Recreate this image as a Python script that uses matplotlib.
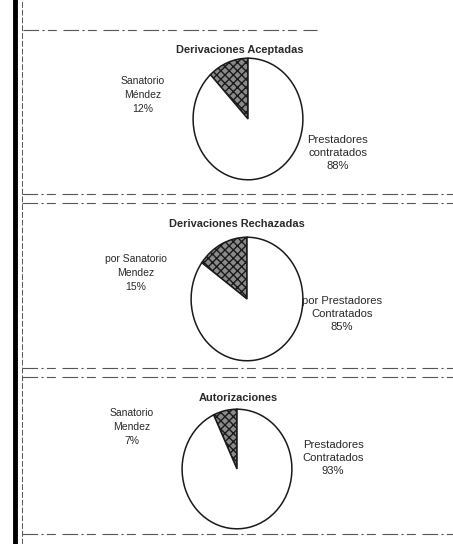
import matplotlib.pyplot as plt
from matplotlib.lines import Line2D

# Data
titles = ["Derivaciones Aceptadas", "Derivaciones Rechazadas", "Autorizaciones"]
small_labels = ["Sanatorio\nMéndez\n12%", "por Sanatorio\nMendez\n15%", "Sanatorio\nMendez\n7%"]
big_labels = ["Prestadores\ncontratados\n88%", "por Prestadores\nContratados\n85%", "Prestadores\nContratados\n93%"]
sanatorio_pct = [12, 15, 7]
prestadores_pct = [88, 85, 93]

W, H = 453, 544
fig = plt.figure(figsize=(W / 100, H / 100), dpi=100)
fig.patch.set_facecolor("white")
plt.rcParams["font.family"] = ["Liberation Sans", "DejaVu Sans"]


def fx(x):
    return x / W


def fy(y):
    return 1 - y / H


# pixel layout of each panel: pie centre, radii, title and label positions
pie_geo = [(248, 119, 56, 62), (247, 299, 57, 63), (237, 469, 56, 61)]
title_pos = [(240, 50), (237, 224), (238, 398)]
small_pos = [(143, 95), (136, 273), (132, 427)]
big_pos = [(338, 153), (342, 314), (333, 458)]

for i in range(3):
    cx, cy, rx, ry = pie_geo[i]
    ax = fig.add_axes([fx(cx - rx), fy(cy + ry), 2 * rx / W, 2 * ry / H])
    wedges, _ = ax.pie([sanatorio_pct[i], prestadores_pct[i]], startangle=90,
                       counterclock=True, radius=1,
                       colors=["#8a8a8a", "white"],
                       wedgeprops=dict(edgecolor="#1a1a1a", linewidth=1.1))
    wedges[0].set_hatch("xxxx")
    ax.set_xlim(-1.02, 1.02)
    ax.set_ylim(-1.02, 1.02)
    ax.set_aspect("auto")
    ax.axis("off")

    fig.text(fx(title_pos[i][0]), fy(title_pos[i][1]), titles[i], ha="center", va="center",
             fontsize=7.9, fontweight="bold", color="#2a2a2a")
    fig.text(fx(small_pos[i][0]), fy(small_pos[i][1]), small_labels[i], ha="center", va="center",
             fontsize=7.5, color="#2a2a2a", linespacing=1.5)
    fig.text(fx(big_pos[i][0]), fy(big_pos[i][1]), big_labels[i], ha="center", va="center",
             fontsize=8.1, color="#2a2a2a", linespacing=1.4)

# scanned page borders
fig.add_artist(Line2D([fx(15), fx(15)], [0, 1], color="black", linewidth=3.5))
fig.add_artist(Line2D([fx(22), fx(22)], [0, 1], color="#555555", linewidth=0.7, linestyle=(0, (6, 2))))

rules = [(23, 317, 30), (22, 453, 194), (22, 453, 203), (22, 453, 368), (22, 453, 377), (22, 453, 534)]
for x0, x1, y in rules:
    fig.add_artist(Line2D([fx(x0), fx(x1)], [fy(y), fy(y)], color="#555555", linewidth=0.8,
                          linestyle=(0, (14, 3, 2, 3, 8, 6))))

fig.savefig("out.png", dpi=100)
